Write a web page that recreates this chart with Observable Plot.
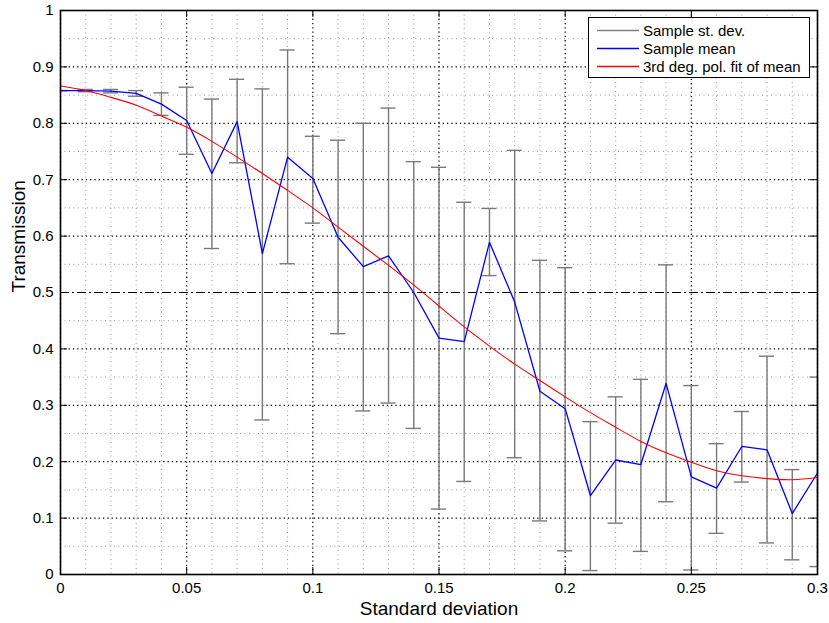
<!DOCTYPE html>
<html><head><meta charset="utf-8">
<script src="https://cdn.jsdelivr.net/npm/d3@7"></script>
<script src="https://cdn.jsdelivr.net/npm/@observablehq/plot@0.6"></script>
<style>
body{margin:0;background:#fff;font-family:"Liberation Sans",Arial,Helvetica,sans-serif;}
#wrap{position:relative;width:829px;height:623px;}
#legend{position:absolute;left:588px;top:17px;}
</style>
</head><body>
<div id="wrap"></div>
<script>
const sigma = [0,0.01,0.02,0.03,0.04,0.05,0.06,0.07,0.08,0.09,0.1,0.11,0.12,0.13,0.14,0.15,0.16,0.17,0.18,0.19,0.2,0.21,0.22,0.23,0.24,0.25,0.26,0.27,0.28,0.29,0.3];
const meanT = [0.858,0.858,0.857,0.853,0.834,0.805,0.711,0.803,0.569,0.740,0.702,0.598,0.546,0.565,0.500,0.419,0.413,0.589,0.483,0.325,0.294,0.140,0.203,0.195,0.339,0.173,0.153,0.227,0.221,0.108,0.180];
const upperT = [0.858,0.860,0.860,0.858,0.854,0.864,0.843,0.878,0.861,0.930,0.777,0.770,0.800,0.827,0.732,0.722,0.660,0.649,0.752,0.557,0.544,0.271,0.315,0.346,0.549,0.335,0.232,0.289,0.387,0.186,0.350];
const lowerT = [0.858,0.856,0.854,0.848,0.814,0.745,0.578,0.730,0.274,0.551,0.623,0.427,0.290,0.304,0.259,0.116,0.165,0.530,0.207,0.095,0.042,0.007,0.091,0.041,0.129,0.008,0.073,0.164,0.056,0.026,0.014];
const fitT = [0.866,0.858,0.846,0.832,0.813,0.793,0.768,0.740,0.711,0.681,0.650,0.616,0.582,0.548,0.513,0.476,0.439,0.405,0.373,0.344,0.315,0.287,0.261,0.236,0.216,0.199,0.184,0.175,0.170,0.168,0.172];

const xTicks = [0,0.05,0.1,0.15,0.2,0.25,0.3];
const xTickLabels = ["0","0.05","0.1","0.15","0.2","0.25","0.3"];
const yTicks = [0,0.1,0.2,0.3,0.4,0.5,0.6,0.7,0.8,0.9,1];
const yTickLabels = ["0","0.1","0.2","0.3","0.4","0.5","0.6","0.7","0.8","0.9","1"];
const yMinor = [0.05,0.15,0.25,0.35,0.45,0.55,0.65,0.75,0.85,0.95];
const xMinor = sigma.filter(v => !xTicks.some(t => Math.abs(t - v) < 1e-9));
const refLine = [0.5];

const legendLabels = ["Sample st. dev.", "Sample mean", "3rd deg. pol. fit of mean"];
const legendColors = ["#808080", "#0000ff", "#ff0000"];

const data = sigma.map((x, i) => ({x, mean: meanT[i], lo: lowerT[i], hi: upperT[i], fit: fitT[i]}));
const tickLenY = 0.0124, tickLenX = 0.0028;

const chart = Plot.plot({
  width: 829, height: 623,
  marginLeft: 60, marginRight: 12, marginTop: 10, marginBottom: 49,
  style: {fontFamily: '"Liberation Sans", Arial, Helvetica, sans-serif', fontSize: "15px", background: "white", color: "black"},
  x: {domain: [0, 0.3]},
  y: {domain: [0, 1]},
  marks: [
    Plot.ruleX(xMinor, {x: d => d, stroke: "#9a9a9a", strokeWidth: 1, strokeDasharray: "1,3.5"}),
    Plot.ruleY(yMinor, {y: d => d, stroke: "#9a9a9a", strokeWidth: 1, strokeDasharray: "1,3.5"}),
    Plot.ruleX(xTicks, {x: d => d, stroke: "#000", strokeWidth: 1.2, strokeDasharray: "1.3,3"}),
    Plot.ruleY(yTicks.filter(v => v !== 0.5), {y: d => d, stroke: "#000", strokeWidth: 1.2, strokeDasharray: "1.3,3"}),
    Plot.ruleY(refLine, {y: d => d, stroke: "#000", strokeWidth: 1, strokeDasharray: "9,3,2,3"}),
    Plot.ruleX(data, {x: "x", y1: "lo", y2: "hi", stroke: "#7a7a7a", strokeWidth: 1.4}),
    Plot.ruleY(data, {y: "hi", x1: d => d.x - 0.003, x2: d => d.x + 0.003, stroke: "#7a7a7a", strokeWidth: 1.4, clip: true}),
    Plot.ruleY(data, {y: "lo", x1: d => d.x - 0.003, x2: d => d.x + 0.003, stroke: "#7a7a7a", strokeWidth: 1.4, clip: true}),
    Plot.line(data, {x: "x", y: "mean", stroke: "#0000ff", strokeWidth: 1.3}),
    Plot.line(data, {x: "x", y: "fit", stroke: "#ff0000", strokeWidth: 1.1, curve: "natural"}),
    Plot.ruleX(xTicks, {x: d => d, y1: 0, y2: tickLenY, stroke: "#000"}),
    Plot.ruleX(xTicks, {x: d => d, y1: 1 - tickLenY, y2: 1, stroke: "#000"}),
    Plot.ruleY(yTicks, {y: d => d, x1: 0, x2: tickLenX, stroke: "#000"}),
    Plot.ruleY(yTicks, {y: d => d, x1: 0.3 - tickLenX, x2: 0.3, stroke: "#000"}),
    Plot.frame({stroke: "#000", strokeWidth: 1.6}),
    Plot.axisX({ticks: xTicks, tickFormat: d => xTickLabels[xTicks.findIndex(t => Math.abs(t - d) < 1e-9)], tickSize: 0, tickPadding: 8, fontSize: 15, label: null}),
    Plot.axisY({ticks: yTicks, tickFormat: d => yTickLabels[yTicks.findIndex(t => Math.abs(t - d) < 1e-9)], tickSize: 0, tickPadding: 7, fontSize: 15, label: null}),
    Plot.text(["Standard deviation"], {text: d => d, frameAnchor: "bottom", lineAnchor: "middle", dy: 34, fontSize: 19}),
    Plot.text(["Transmission"], {text: d => d, frameAnchor: "left", lineAnchor: "middle", dx: -42, rotate: -90, fontSize: 19})
  ]
});

const wrap = document.getElementById("wrap");
wrap.appendChild(chart);

const ns = "http://www.w3.org/2000/svg";
const lg = document.createElementNS(ns, "svg");
lg.setAttribute("id", "legend");
lg.setAttribute("width", 223);
lg.setAttribute("height", 62);
const box = document.createElementNS(ns, "rect");
box.setAttribute("x", 0.5); box.setAttribute("y", 0.5);
box.setAttribute("width", 221); box.setAttribute("height", 60);
box.setAttribute("fill", "#fff"); box.setAttribute("stroke", "#000"); box.setAttribute("stroke-width", 1);
lg.appendChild(box);
legendLabels.forEach((lab, i) => {
  const yy = 13.5 + i * 18;
  const ln = document.createElementNS(ns, "line");
  ln.setAttribute("x1", 9); ln.setAttribute("x2", 51);
  ln.setAttribute("y1", yy); ln.setAttribute("y2", yy);
  ln.setAttribute("stroke", legendColors[i]); ln.setAttribute("stroke-width", 1.3);
  lg.appendChild(ln);
  const tx = document.createElementNS(ns, "text");
  tx.setAttribute("x", 55); tx.setAttribute("y", yy);
  tx.setAttribute("dy", "0.35em");
  tx.setAttribute("font-size", "15px");
  tx.setAttribute("font-family", '"Liberation Sans", Arial, Helvetica, sans-serif');
  tx.setAttribute("fill", "#000");
  tx.textContent = lab;
  lg.appendChild(tx);
});
wrap.appendChild(lg);
</script>
</body></html>
